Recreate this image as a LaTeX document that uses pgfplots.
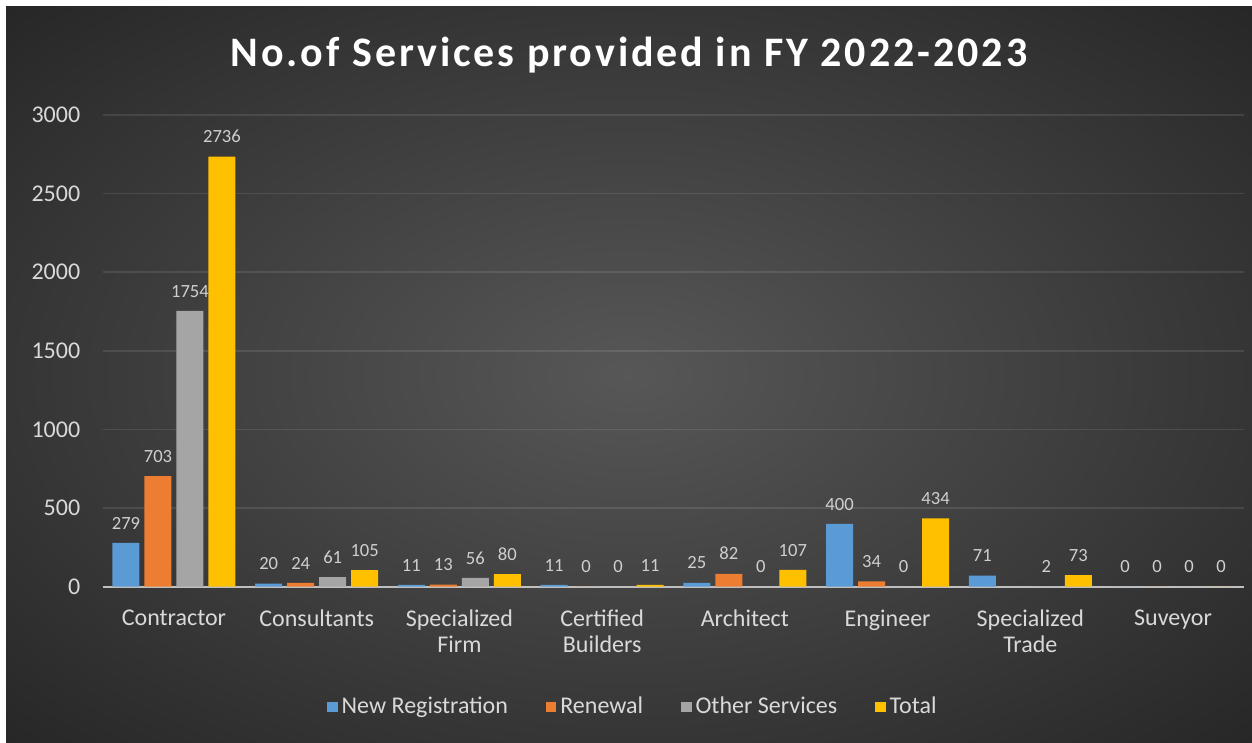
\documentclass[border=0pt]{standalone}
\usepackage{pgfplots}
\pgfplotsset{compat=1.18}
\usepackage{fontspec}
\setmainfont{Carlito}
\definecolor{cblue}{HTML}{5B9BD5}
\definecolor{corange}{HTML}{ED7D31}
\definecolor{cgray}{HTML}{A5A5A5}
\definecolor{cyellow}{HTML}{FFC000}
\definecolor{bgin}{HTML}{575757}
\definecolor{bgout}{HTML}{262626}
\definecolor{lbl}{HTML}{D9D9D9}
\definecolor{dlbl}{HTML}{CFCFCF}
\definecolor{axcol}{HTML}{BFBFBF}
\pgfdeclareradialshading{bgshade}{\pgfpoint{0bp}{0bp}}{color(0bp)=(bgin); color(36bp)=(bgout); color(50bp)=(bgout)}
\begin{document}
\begin{tikzpicture}
\fill[white] (0pt,0pt) rectangle (626pt,371.5pt);
\shade[shading=bgshade] (3pt,0pt) rectangle (626pt,368pt);
\node[anchor=base, text=white, font=\fontsize{21}{25}\selectfont\bfseries\addfontfeatures{LetterSpace=7}] at (314.5pt,338pt) {No.of Services provided in FY 2022-2023};
\begin{axis}[
  at={(51.3pt,78.15pt)}, anchor=south west,
  scale only axis, width=570.9pt, height=235.85pt,
  xmin=-0.5, xmax=7.5, ymin=0, ymax=3000,
  ybar=2.5pt, bar width=13.5pt,
  xtick={0,...,7},
  xticklabels={Contractor,Consultants,{Specialized\\Firm},{Certified\\Builders},Architect,Engineer,{Specialized\\Trade},Suveyor},
  xticklabel style={align=center, font=\fontsize{12}{13}\selectfont, text=lbl, inner sep=0pt, yshift=-11.5pt},
  ytick={0,500,...,3000},
  yticklabel style={font=\fontsize{12}{13}\selectfont, text=lbl, inner sep=0pt, xshift=-11pt},
  /pgf/number format/assume math mode=true,
  /pgf/number format/1000 sep={},
  major tick length=0pt,
  ymajorgrids, grid style={draw=white, opacity=0.1, line width=0.8pt},
  axis x line*=bottom, axis y line*=left,
  y axis line style={draw=none},
  x axis line style={-, draw=axcol, line width=0.9pt},
  nodes near coords,
  every node near coord/.append style={font=\fontsize{9.3}{10}\selectfont, text=dlbl, yshift=3.3pt},
  legend style={at={(0.4654,-0.255)}, anchor=center, draw=none, fill=none, legend columns=-1, font=\fontsize{12}{13}\selectfont, text=lbl, /tikz/every even column/.append style={column sep=17pt}},
  legend image code/.code={\fill[#1] (0pt,-2.6pt) rectangle (5.2pt,2.6pt);},
]
\addplot[fill=cblue, draw=none] coordinates {(0,279) (1,20) (2,11) (3,11) (4,25) (5,400) (6,71) (7,0)};
\addplot[fill=corange, draw=none] coordinates {(0,703) (1,24) (2,13) (3,0) (4,82) (5,34) (7,0)};
\addplot[fill=cgray, draw=none] coordinates {(0,1754) (1,61) (2,56) (3,0) (4,0) (5,0) (6,2) (7,0)};
\addplot[fill=cyellow, draw=none] coordinates {(0,2736) (1,105) (2,80) (3,11) (4,107) (5,434) (6,73) (7,0)};
\legend{New Registration,Renewal,Other Services,Total}
\end{axis}
\end{tikzpicture}
\end{document}
